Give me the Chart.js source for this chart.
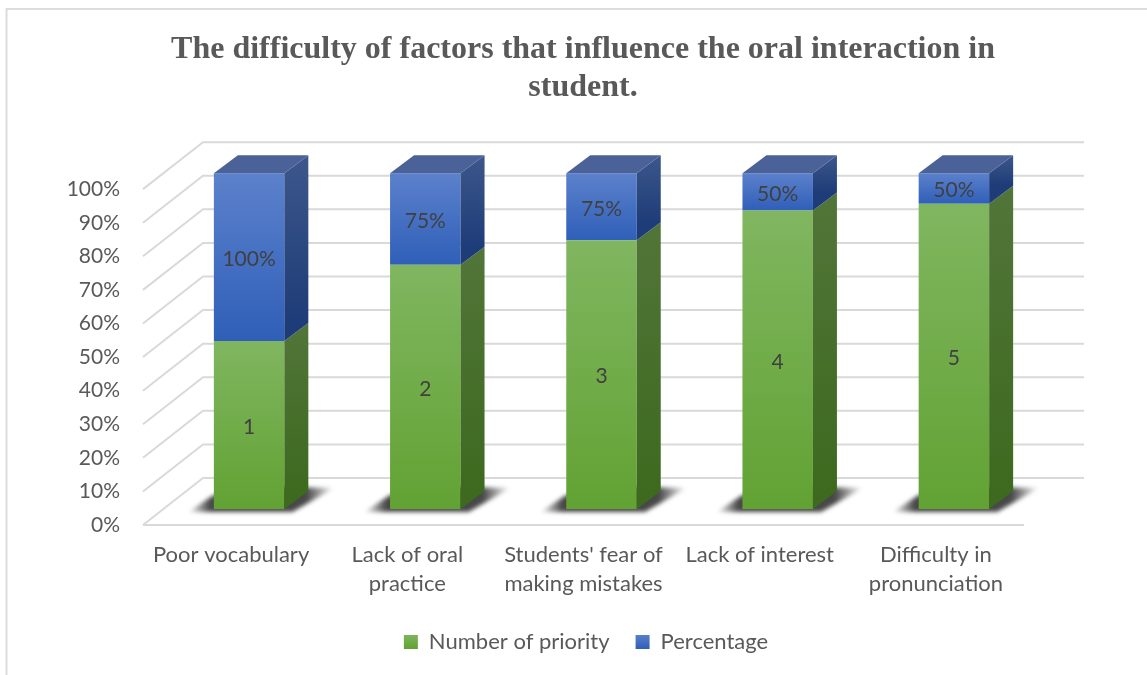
<!DOCTYPE html>
<html><head><meta charset="utf-8">
<script src="https://cdn.jsdelivr.net/npm/chart.js@4"></script>
<style>html,body{margin:0;padding:0;background:#fff;overflow:hidden}canvas{display:block}</style>
</head><body>
<div style="width:1147px;height:675px"><canvas id="c" width="1147" height="675"></canvas></div>
<script>
const titleLines = ["The difficulty of factors that influence the oral interaction in", "student."];
const categories = ["Poor vocabulary", ["Lack of oral", "practice"], ["Students' fear of", "making mistakes"], "Lack of interest", ["Difficulty in", "pronunciation"]];
const priorityValues = [1, 2, 3, 4, 5];
const percentageValues = [1, 0.75, 0.75, 0.5, 0.5];
const seriesNames = ["Number of priority", "Percentage"];
const axisMax = 100, axisStep = 10;

const totals = priorityValues.map((v, i) => v + percentageValues[i]);
const priorityShare = priorityValues.map((v, i) => v / totals[i] * 100);
const percentageShare = percentageValues.map((v, i) => v / totals[i] * 100);

const TEXT = "#595959", GRID = "#d9d9d9", UI = "Lato";
const WALL = {dx: 60, dy: -47}, BAR = {dx: 24, dy: -18}, SHIFT = {x: 18, y: -16};
const LOOK = [
  {front: ["#80b660", "#62a233"], side: ["#527539", "#3d6a1f"]},
  {front: ["#5c81cc", "#2f5fb8"], side: ["#3d578b", "#1e3c78"]}
];
const CAP = "#4a6298";

function grad(ctx, y0, y1, c) {
  const g = ctx.createLinearGradient(0, y0, 0, y1);
  g.addColorStop(0, c[0]); g.addColorStop(1, c[1]);
  return g;
}
function frontFill(which) {
  return (context) => {
    const chart = context.chart, y = chart.scales.y;
    if (!y || context.dataIndex === undefined) return LOOK[which].front[1];
    const i = context.dataIndex;
    const lo = which === 0 ? 0 : priorityShare[i];
    const hi = lo + (which === 0 ? priorityShare[i] : percentageShare[i]);
    return grad(chart.ctx, y.getPixelForValue(hi), y.getPixelForValue(lo), LOOK[which].front);
  };
}

const scene = {
  id: "scene",
  afterLayout(chart) {
    chart.legend.left += 3; chart.legend.right += 3;
  },
  beforeDraw(chart) {
    const c = chart.ctx, {x, y} = chart.scales;
    c.save();
    c.strokeStyle = "#dcdcdc"; c.lineWidth = 2;
    c.beginPath(); c.moveTo(6.5, 675); c.lineTo(6.5, 9); c.lineTo(1147, 9); c.stroke();
    c.strokeStyle = GRID; c.lineWidth = 2;
    y.ticks.forEach(t => {
      const py = y.getPixelForValue(t.value);
      c.beginPath();
      c.moveTo(x.left, py);
      c.lineTo(x.left + WALL.dx, py + WALL.dy);
      c.lineTo(x.right + WALL.dx, py + WALL.dy);
      c.stroke();
    });
    c.beginPath(); c.moveTo(x.left, y.bottom); c.lineTo(x.right, y.bottom); c.stroke();
    c.restore();
  },
  beforeDatasetsDraw(chart) {
    const c = chart.ctx;
    const base = chart.getDatasetMeta(0).data;
    c.save();
    c.translate(SHIFT.x, SHIFT.y);
    base.forEach(b => {
      const l = b.x - b.width / 2, r = b.x + b.width / 2, yb = b.base;
      const g = c.createLinearGradient(l - 26, 0, r + 50, 0);
      const span = r + 50 - (l - 26);
      g.addColorStop(0, "rgba(40,40,40,0)");
      g.addColorStop(22 / span, "rgba(40,40,40,0.85)");
      g.addColorStop((span - 28) / span, "rgba(40,40,40,0.85)");
      g.addColorStop(1, "rgba(40,40,40,0)");
      c.save();
      c.filter = "blur(2px)";
      c.fillStyle = g;
      c.beginPath();
      c.moveTo(l - 26, yb + 3);
      c.lineTo(r + 8, yb + 3);
      c.lineTo(r + 50, yb - 21);
      c.lineTo(r, yb - 22);
      c.lineTo(l, yb - 14);
      c.closePath();
      c.fill();
      c.restore();
    });
  },
  afterDatasetsDraw(chart) {
    const c = chart.ctx;
    chart.data.datasets.forEach((ds, k) => {
      chart.getDatasetMeta(k).data.forEach((b, i) => {
        const l = b.x - b.width / 2, r = b.x + b.width / 2;
        c.fillStyle = grad(c, b.y + BAR.dy, b.base + BAR.dy, LOOK[k].side);
        c.beginPath();
        c.moveTo(r, b.y); c.lineTo(r + BAR.dx, b.y + BAR.dy);
        c.lineTo(r + BAR.dx, b.base + BAR.dy); c.lineTo(r, b.base);
        c.closePath(); c.fill();
        if (k === chart.data.datasets.length - 1) {
          c.fillStyle = CAP;
          c.beginPath();
          c.moveTo(l, b.y); c.lineTo(l + BAR.dx, b.y + BAR.dy);
          c.lineTo(r + BAR.dx, b.y + BAR.dy); c.lineTo(r, b.y);
          c.closePath(); c.fill();
        }
        const text = k === 0 ? String(priorityValues[i]) : Math.round(percentageValues[i] * 100) + "%";
        c.fillStyle = "#404040";
        c.font = "21px " + UI;
        c.textAlign = "center"; c.textBaseline = "middle";
        c.fillText(text, b.x, (b.y + b.base) / 2 + 2);
      });
    });
    c.restore();
  }
};

new Chart(document.getElementById("c"), {
  type: "bar",
  plugins: [scene],
  data: {
    labels: categories,
    datasets: [
      {label: seriesNames[0], data: priorityShare, backgroundColor: frontFill(0), clip: false, borderWidth: 0},
      {label: seriesNames[1], data: percentageShare, backgroundColor: frontFill(1), clip: false, borderWidth: 0}
    ]
  },
  options: {
    responsive: false, animation: false,
    layout: {padding: {left: 19, right: 0, top: 0, bottom: 12}},
    datasets: {bar: {categoryPercentage: 1, barPercentage: 0.4}},
    plugins: {
      tooltip: {enabled: false},
      title: {
        display: true, text: titleLines, color: TEXT,
        font: {family: "'Liberation Serif'", size: 32, weight: "bold", lineHeight: 1.19},
        padding: {top: 31, bottom: 82}
      },
      legend: {
        position: "bottom",
        labels: {
          color: TEXT, font: {family: UI, size: 22}, boxWidth: 14, boxHeight: 14, padding: 26,
          generateLabels: (chart) => seriesNames.map((n, k) => ({
            text: n, datasetIndex: k, lineWidth: 0, strokeStyle: "transparent", fontColor: TEXT,
            fillStyle: grad(chart.ctx, 634, 649, LOOK[k].front)
          }))
        }
      }
    },
    scales: {
      x: {
        stacked: true,
        grid: {display: false, drawTicks: false}, border: {display: false},
        ticks: {color: TEXT, font: {family: UI, size: 22, lineHeight: 1.32}, padding: 15, maxRotation: 0, autoSkip: false},
        afterFit: (s) => { s.height = 80; }
      },
      y: {
        stacked: true, min: 0, max: axisMax,
        grid: {display: false, drawTicks: false}, border: {display: false},
        ticks: {color: TEXT, font: {family: UI, size: 21}, stepSize: axisStep, padding: 23, callback: (v) => v + "%"},
        afterFit: (s) => { s.width = 124; }
      },
      pad: {
        position: "right", min: 0, max: 1,
        grid: {display: false, drawTicks: false}, border: {display: false},
        ticks: {display: false},
        afterFit: (s) => { s.width = 123; }
      }
    }
  }
});
</script>
</body></html>
